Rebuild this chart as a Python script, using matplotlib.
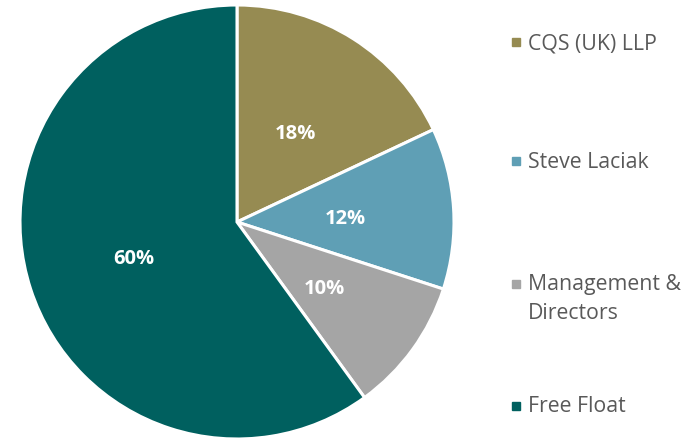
import matplotlib.pyplot as plt
from matplotlib.patches import Rectangle
from matplotlib.transforms import offset_copy

# shareholder split
holders = ['CQS (UK) LLP', 'Steve Laciak', 'Management &\nDirectors', 'Free Float']
shares = [18, 12, 10, 60]
colors = ['#968B52', '#5F9FB5', '#A5A5A5', '#00605F']

plt.rcParams['font.family'] = ['Open Sans', 'DejaVu Sans']

fig = plt.figure(figsize=(6.97, 4.41), dpi=100)
ax = fig.add_axes([20 / 697, 2 / 441, 434 / 697, 434 / 441])

wedges, texts, autotexts = ax.pie(
    shares, colors=colors, startangle=90, counterclock=False,
    autopct='%d%%', pctdistance=0.5,
    wedgeprops=dict(edgecolor='white', linewidth=2.2),
    textprops=dict(color='white', fontsize=14.5, fontweight='bold'),
)
ax.set_xlim(-1, 1)
ax.set_ylim(-1, 1)
ax.set_aspect('equal')

# nudge the percentage labels down a little
for t in autotexts:
    t.set_transform(offset_copy(ax.transData, fig=fig, x=0, y=-3.5, units='dots'))

# legend drawn by hand on the right side (marker row, text centre row)
marker_y = [42, 161, 284, 406]
text_y = [44, 162, 299, 407]
for name, col, my, ty in zip(holders, colors, marker_y, text_y):
    fig.patches.append(Rectangle((512 / 697, 1 - (my + 4) / 441), 8 / 697, 8 / 441,
                                 transform=fig.transFigure, color=col))
    fig.text(528 / 697, 1 - ty / 441, name, ha='left', va='center',
             fontsize=15.3, color='#595959', linespacing=1.5)

fig.savefig('out.png', dpi=100)
